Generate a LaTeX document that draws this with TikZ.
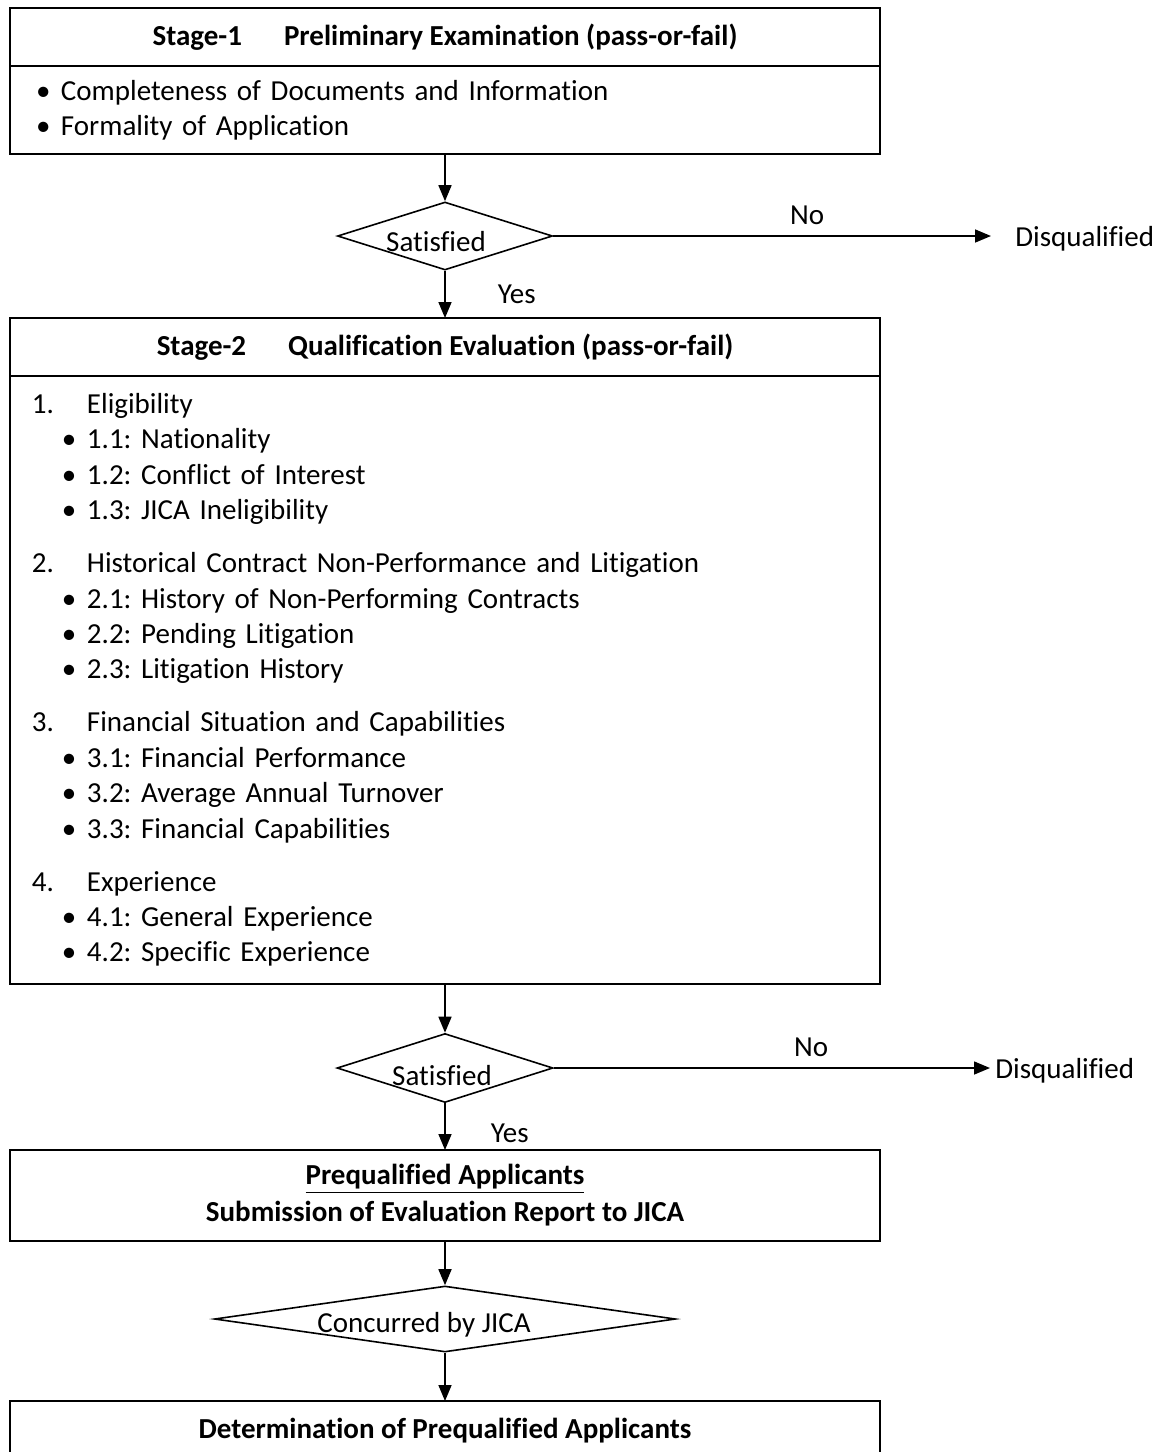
\documentclass[tikz,border=0pt]{standalone}
\usepackage{fontspec}
\setmainfont{Carlito}[Ligatures=NoCommon]
\usetikzlibrary{positioning,shapes.geometric,arrows.meta}
\tikzset{
  every node/.style={font=\fontsize{14.5pt}{17.7pt}\selectfont},
  % --- edges
  e/.style = {-{Triangle[length=8pt,width=6.5pt]}, line width=0.8pt},
}
\newcommand{\blt}[1]{\makebox[12.5pt][l]{\textbullet}#1}
\newcommand{\litem}[2]{\makebox[27.5pt][l]{#1}#2}
\newcommand{\bitem}[1]{\hspace{15pt}\blt{#1}}

\begin{document}
\frenchspacing
\begin{tikzpicture}[x=0.5pt,y=-0.5pt,
  hd/.style={draw, line width=1pt, outer sep=0pt, minimum width=435pt, minimum height=29pt, inner sep=0pt,
             font=\fontsize{14.5pt}{17.7pt}\selectfont\bfseries},
  bd/.style={draw, line width=1pt, outer sep=0pt, align=left},
  bx/.style={hd, align=center},
  dm/.style={diamond, draw, line width=0.8pt, inner sep=0pt},
  lb/.style={inner sep=0pt},
  dq/.style={anchor=west, inner ysep=0pt},
]
  \useasboundingbox (0,0) rectangle (1167,1452);

  % stage 1
  \node[hd] (s1h) at (445,37) {Stage-1\hspace{21pt}Preliminary Examination (pass-or-fail)};
  \node[bd, below=0pt of s1h, inner xsep=13pt, text width=409pt, minimum height=44pt] (s1b)
    {\blt{Completeness of Documents and Information}\\ \blt{Formality of Application}};

  \node[dm, minimum width=107.5pt, minimum height=34pt,
        label={[lb,xshift=-4.5pt,yshift=-3pt]center:Satisfied}] (d1) at (445,236) {};
  \node[dq, inner xsep=12pt] (q1) at (991,239) {Disqualified};

  % stage 2
  \node[hd] (s2h) at (445,347) {Stage-2\hspace{21pt}Qualification Evaluation (pass-or-fail)};
  \node[bd, below=0pt of s2h, inner xsep=11pt, text width=413pt, minimum height=304pt] (s2b)
    {\litem{1.}{Eligibility}\\
     \bitem{1.1: Nationality}\\
     \bitem{1.2: Conflict of Interest}\\
     \bitem{1.3: JICA Ineligibility}\\[8.8pt]
     \litem{2.}{Historical Contract Non-Performance and Litigation}\\
     \bitem{2.1: History of Non-Performing Contracts}\\
     \bitem{2.2: Pending Litigation}\\
     \bitem{2.3: Litigation History}\\[8.8pt]
     \litem{3.}{Financial Situation and Capabilities}\\
     \bitem{3.1: Financial Performance}\\
     \bitem{3.2: Average Annual Turnover}\\
     \bitem{3.3: Financial Capabilities}\\[8.8pt]
     \litem{4.}{Experience}\\
     \bitem{4.1: General Experience}\\
     \bitem{4.2: Specific Experience}};

  \node[dm, minimum width=108pt, minimum height=34.5pt,
        label={[lb,xshift=-1.5pt,yshift=-4pt]center:Satisfied}] (d2) at (445,1068) {};
  \node[dq, inner xsep=2.5pt] (q2) at (990,1071) {Disqualified};

  % result
  \node[bx, minimum height=45.5pt] (b3) at (445,1195.5)
    {\underline{Prequalified Applicants}\\[0.8pt] Submission of Evaluation Report to JICA};
  \node[dm, minimum width=230.5pt, minimum height=33pt,
        label={[lb,xshift=-10.5pt,yshift=-3pt]center:Concurred by JICA}] (d3) at (445,1319) {};
  \node[bx, minimum height=30pt] (b4) at (445,1431) {Determination of Prequalified Applicants};

  \draw[e] (s1b) -- (d1);
  \draw[e] (d1.east) -- node[pos=0.58, above=5.5pt, lb] {No} (d1.east -| q1.west);
  \draw[e] (d1) -- node[right=26pt, lb] {Yes} (s2h);
  \draw[e] (s2b) -- (d2);
  \draw[e] (d2.east) -- node[pos=0.59, above=5.5pt, lb] {No} (d2.east -| q2.west);
  \draw[e] (d2) -- node[right=22.5pt, yshift=-3.5pt, lb] {Yes} (b3);
  \draw[e] (b3) -- (d3);
  \draw[e] (d3) -- (b4);
\end{tikzpicture}
\end{document}
